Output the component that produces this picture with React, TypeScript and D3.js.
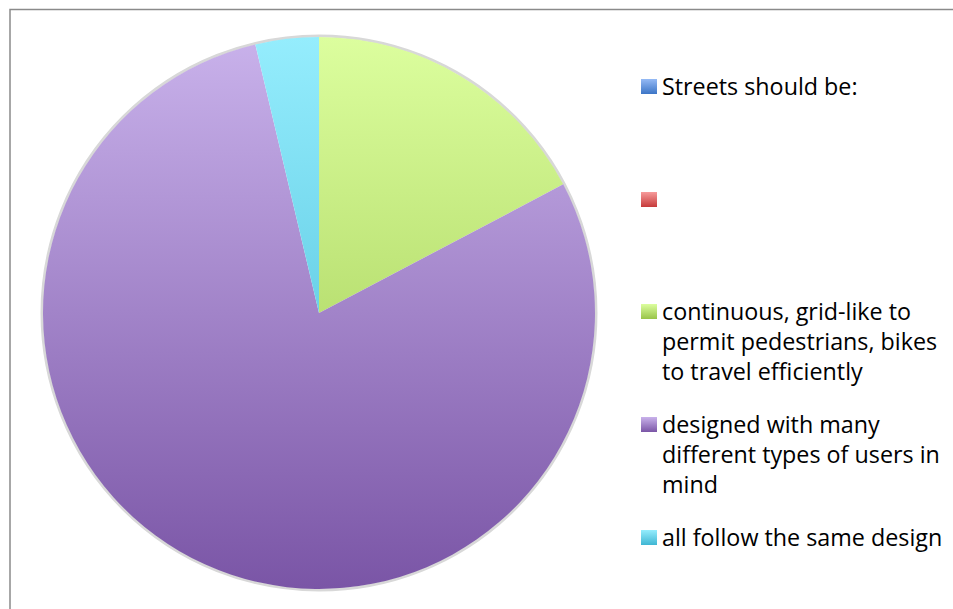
import React, { useEffect, useRef } from 'react';
import * as d3 from 'd3';

// data (counts)
const categories = [
  'Streets should be:',
  '',
  'continuous, grid-like to permit pedestrians, bikes to travel efficiently',
  'designed with many different types of users in mind',
  'all follow the same design',
];
const values = [0, 0, 14, 64, 3];
const legendLines = [
  ['Streets should be:'],
  [''],
  ['continuous, grid-like to', 'permit pedestrians, bikes', 'to travel efficiently'],
  ['designed with many', 'different types of users in', 'mind'],
  ['all follow the same design'],
];
const topColors = ['#95baf5', '#f79b9b', '#dcfe9e', '#c9b2eb', '#95edfd'];
const bottomColors = ['#3c75c6', '#c63a3a', '#98c448', '#7a55a6', '#3fb6d3'];

export default function App() {
  const svgRef = useRef<SVGSVGElement>(null);

  useEffect(() => {
    if (!svgRef.current) return;
    const svg = d3.select(svgRef.current);
    svg.selectAll('*').remove();

    const width = 953;
    const height = 609;
    const cx = 319;
    const cy = 313;
    const r = 276;

    // outer frame
    svg
      .append('rect')
      .attr('x', 10)
      .attr('y', 9.5)
      .attr('width', width + 20)
      .attr('height', height + 20)
      .attr('fill', '#fff')
      .attr('stroke', '#8a8a8a')
      .attr('stroke-width', 1.5);

    const defs = svg.append('defs');
    categories.forEach((_, i) => {
      // slice gradients live in the pie group's coordinates
      const g = defs
        .append('linearGradient')
        .attr('id', `slice-${i}`)
        .attr('gradientUnits', 'userSpaceOnUse')
        .attr('x1', 0)
        .attr('y1', -r)
        .attr('x2', 0)
        .attr('y2', r);
      g.append('stop').attr('offset', '0%').attr('stop-color', topColors[i]);
      g.append('stop').attr('offset', '100%').attr('stop-color', bottomColors[i]);

      const lg = defs
        .append('linearGradient')
        .attr('id', `legend-${i}`)
        .attr('x1', 0)
        .attr('y1', 0)
        .attr('x2', 0)
        .attr('y2', 1);
      lg.append('stop').attr('offset', '0%').attr('stop-color', topColors[i]);
      lg.append('stop').attr('offset', '100%').attr('stop-color', bottomColors[i]);
    });

    const pie = d3.pie<number>().sort(null).value(d => d);
    const arc = d3.arc<d3.PieArcDatum<number>>().innerRadius(0).outerRadius(r);

    const g = svg.append('g').attr('transform', `translate(${cx},${cy})`);

    // soft outline
    g.append('circle')
      .attr('r', r + 1)
      .attr('fill', 'none')
      .attr('stroke', '#d8d8d8')
      .attr('stroke-width', 3);

    g.selectAll('path.slice')
      .data(pie(values).filter(d => d.data > 0))
      .join('path')
      .attr('class', 'slice')
      .attr('d', arc)
      .attr('fill', d => `url(#slice-${d.index})`);

    // legend
    const lx = 641;
    const textX = 662;
    const rowTops = [79, 192, 304, 417, 530];
    const lineH = 30;
    const legend = svg.append('g');
    categories.forEach((_, i) => {
      legend
        .append('rect')
        .attr('x', lx)
        .attr('y', rowTops[i])
        .attr('width', 16)
        .attr('height', 15)
        .attr('fill', `url(#legend-${i})`);
      const t = legend
        .append('text')
        .attr('x', textX)
        .attr('y', rowTops[i] + 16)
        .attr('fill', '#000')
        .style('font-family', '"Open Sans", "Noto Sans", sans-serif')
        .style('font-size', '23.3px');
      legendLines[i].forEach((line, j) => {
        t.append('tspan')
          .attr('x', textX)
          .attr('y', rowTops[i] + 16 + j * lineH)
          .text(line);
      });
    });
  }, []);

  return (
    <svg
      ref={svgRef}
      width={953}
      height={609}
      style={{ position: 'absolute', left: 0, top: 0, display: 'block' }}
    />
  );
}
